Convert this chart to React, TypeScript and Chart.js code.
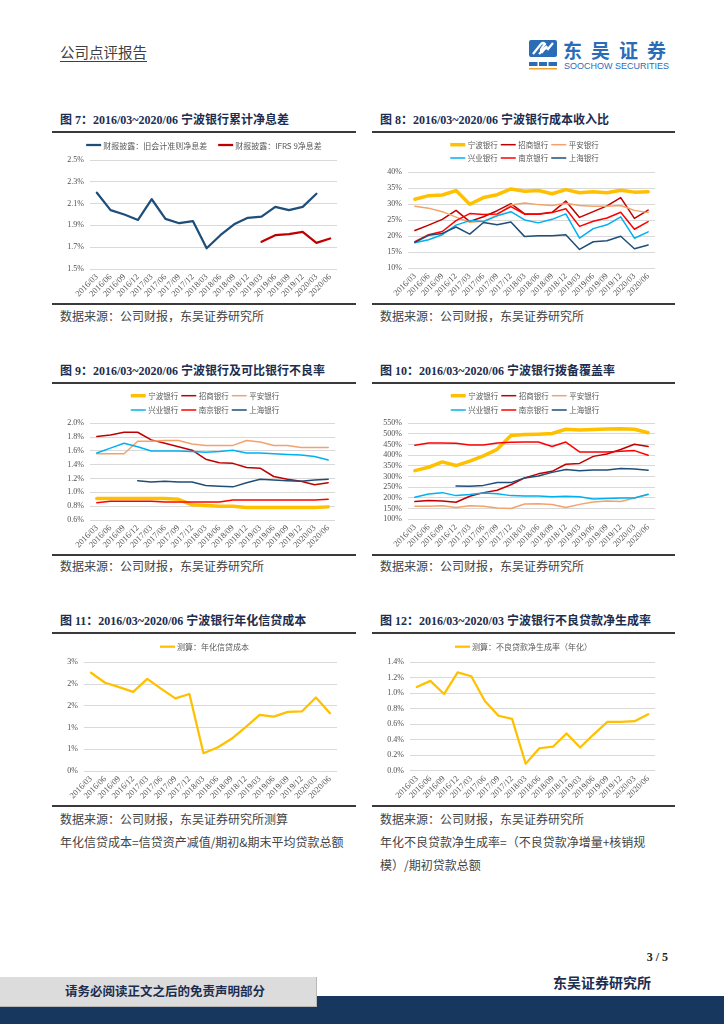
import React, { useEffect, useRef } from "react";
import { Chart, registerables } from "chart.js";

Chart.register(...registerables);

// ---------------- data ----------------
const periods = [
  "2016/03", "2016/06", "2016/09", "2016/12",
  "2017/03", "2017/06", "2017/09", "2017/12",
  "2018/03", "2018/06", "2018/09", "2018/12",
  "2019/03", "2019/06", "2019/09", "2019/12",
  "2020/03", "2020/06",
];

// Fig 7 net interest margin (%)
const nimOldStd = [2.20, 2.04, 2.00, 1.95, 2.14, 1.96, 1.92, 1.94, 1.69, 1.81, 1.91, 1.97, 1.98, 2.07, 2.04, 2.07, 2.19, null];
const nimIfrs9 = [null, null, null, null, null, null, null, null, null, null, null, null, 1.75, 1.81, 1.82, 1.84, 1.74, 1.78];

// Fig 8 cost-income ratio (%)
const ciNingbo = [31.6, 32.7, 32.9, 34.3, 30.0, 32.1, 33.0, 34.8, 34.1, 34.3, 33.3, 34.6, 33.6, 33.9, 33.6, 34.4, 33.8, 33.9];
const ciCmb = [21.8, 23.5, 25.3, 28.1, 24.6, 26.1, 28.0, 30.2, 27.0, 27.0, 27.5, 31.0, 25.9, 27.7, 29.5, 32.1, 25.6, 28.2];
const ciPingan = [29.4, 28.8, 27.7, 26.0, 24.4, 24.7, 26.6, 29.8, 30.4, 29.9, 29.6, 30.3, 29.6, 29.4, 29.4, 29.6, 28.1, 27.4];
const ciCib = [18.0, 18.9, 20.5, 23.5, 24.9, 24.6, 26.4, 27.7, 25.1, 24.2, 25.3, 27.0, 19.4, 22.4, 23.6, 26.1, 19.4, 21.4];
const ciNanjing = [18.3, 20.5, 21.5, 24.9, 27.1, 26.8, 27.0, 29.3, 26.9, 26.9, 27.4, 28.6, 23.1, 24.7, 25.7, 27.5, 22.2, 24.6];
const ciShanghai = [18.1, 20.3, 20.9, 22.9, 20.7, 24.3, 23.6, 24.5, 19.9, 20.2, 20.2, 20.5, 15.9, 18.3, 18.6, 20.0, 16.1, 17.3];

// Fig 9 NPL ratio (%)
const nplNingbo = [0.91, 0.91, 0.91, 0.91, 0.91, 0.91, 0.90, 0.82, 0.81, 0.80, 0.80, 0.78, 0.78, 0.78, 0.78, 0.78, 0.78, 0.79];
const nplCmb = [1.81, 1.83, 1.87, 1.87, 1.76, 1.71, 1.66, 1.61, 1.48, 1.43, 1.42, 1.36, 1.35, 1.23, 1.19, 1.16, 1.11, 1.14];
const nplPingan = [1.56, 1.56, 1.56, 1.74, 1.74, 1.75, 1.75, 1.70, 1.68, 1.68, 1.68, 1.75, 1.73, 1.68, 1.68, 1.65, 1.65, 1.65];
const nplCib = [1.57, 1.64, 1.71, 1.66, 1.60, 1.60, 1.60, 1.59, 1.58, 1.59, 1.61, 1.57, 1.57, 1.56, 1.55, 1.54, 1.52, 1.47];
const nplNanjing = [0.85, 0.87, 0.87, 0.87, 0.87, 0.86, 0.86, 0.86, 0.86, 0.86, 0.89, 0.89, 0.89, 0.89, 0.89, 0.89, 0.89, 0.90];
const nplShanghai = [null, null, null, 1.17, 1.15, 1.16, 1.15, 1.15, 1.10, 1.09, 1.08, 1.14, 1.19, 1.18, 1.17, 1.16, 1.18, 1.19];

// Fig 10 provision coverage ratio (%)
const pcNingbo = [328, 344, 369, 352, 373, 397, 428, 493, 497, 499, 502, 522, 519, 521, 523, 524, 522, 506];
const pcCmb = [183, 188, 186, 180, 208, 225, 236, 262, 294, 313, 325, 358, 362, 395, 406, 427, 452, 441];
const pcPingan = [161, 161, 164, 155, 164, 161, 153, 151, 172, 173, 169, 155, 170, 181, 186, 183, 200, 216];
const pcCib = [203, 219, 225, 211, 216, 223, 220, 211, 209, 209, 206, 208, 206, 195, 198, 200, 200, 217];
const pcNanjing = [447, 458, 458, 456, 448, 448, 458, 461, 462, 462, 441, 462, 416, 416, 416, 419, 422, 400];
const pcShanghai = [null, null, null, 256, 255, 259, 273, 272, 294, 303, 320, 333, 328, 331, 331, 338, 336, 330];

// Fig 11 annualised credit cost (%)
const creditCost = [2.26, 2.03, 1.93, 1.82, 2.12, 1.89, 1.67, 1.77, 0.41, 0.54, 0.74, 1.01, 1.29, 1.25, 1.36, 1.37, 1.69, 1.33];

// Fig 12 annualised NPL net formation rate (%)
const nplFormation = [1.08, 1.16, 0.99, 1.27, 1.22, 0.90, 0.71, 0.67, 0.09, 0.29, 0.31, 0.48, 0.30, 0.47, 0.63, 0.63, 0.64, 0.73];

// labels
const bankNames = ["宁波银行", "招商银行", "平安银行", "兴业银行", "南京银行", "上海银行"];
const fig7Labels = ["财报披露：旧会计准则净息差", "财报披露：IFRS 9净息差"];
const fig11Label = "测算：年化信贷成本";
const fig12Label = "测算：不良贷款净生成率（年化）";

// ---------------- styles ----------------
const SERIF = "'Liberation Serif','Times New Roman','Noto Sans CJK SC',serif";
const SANS = "'Noto Sans CJK SC','Liberation Sans',sans-serif";
const TICK = "#505050";
const GRID = "#d9d9d9";
const C_NB = "#FFC000";
const C_CMB = "#C00000";
const C_PA = "#F4A26B";
const C_CIB = "#00B0F0";
const C_NJ = "#FF0000";
const C_SH = "#1F4E79";
const NAVY = "#1c2d4f";

type Series = { label: string; data: (number | null)[]; color: string; width: number };
type Spec = {
  box: [number, number, number, number]; // left, top, width, height
  plot: [number, number, number, number]; // left, top, right, bottom
  series: Series[];
  yMin: number;
  yMax: number;
  yStep: number;
  fmt: (v: number) => string;
  legendRows: number[][];
  legendY: number[];
  legendCx: number;
  legendFont: number;
  legendGap: number;
  legendItemGap: number;
};

function bankSeries(arrs: (number | null)[][]): Series[] {
  const colors = [C_NB, C_CMB, C_PA, C_CIB, C_NJ, C_SH];
  return arrs.map((d, i) => ({ label: bankNames[i], data: d, color: colors[i], width: i === 0 ? 3.5 : 1.5 }));
}

function LineChart({ spec }: { spec: Spec }) {
  const ref = useRef<HTMLCanvasElement>(null);
  const [bl, bt, bw, bh] = spec.box;
  useEffect(() => {
    const [pl, pt, pr, pb] = spec.plot;
    const legendPlugin = {
      id: "fixedLegend",
      afterDraw(chart: any) {
        const ctx = chart.ctx as CanvasRenderingContext2D;
        ctx.save();
        ctx.font = `${spec.legendFont}px ${SANS}`;
        ctx.textBaseline = "middle";
        ctx.textAlign = "left";
        const lineLen = 15;
        spec.legendRows.forEach((row, r) => {
          const y = spec.legendY[r];
          const dsets = row.map((i) => chart.data.datasets[i]);
          const widths = dsets.map((ds: any) => lineLen + spec.legendGap + ctx.measureText(ds.label).width);
          const total = widths.reduce((a: number, b: number) => a + b, 0) + spec.legendItemGap * (dsets.length - 1);
          let x = spec.legendCx - total / 2;
          dsets.forEach((ds: any, k: number) => {
            ctx.strokeStyle = ds.borderColor;
            ctx.lineWidth = ds.borderWidth;
            ctx.lineCap = "butt";
            ctx.beginPath();
            ctx.moveTo(x, y);
            ctx.lineTo(x + lineLen, y);
            ctx.stroke();
            ctx.fillStyle = "#595959";
            ctx.fillText(ds.label, x + lineLen + spec.legendGap, y + 0.5);
            x += widths[k] + spec.legendItemGap;
          });
        });
        ctx.restore();
      },
    };
    const n = spec.series.length;
    const chart = new Chart(ref.current as HTMLCanvasElement, {
      type: "line",
      data: {
        labels: periods,
        datasets: spec.series.map((s, i) => ({
          label: s.label,
          data: s.data,
          borderColor: s.color,
          backgroundColor: s.color,
          borderWidth: s.width,
          pointRadius: 0,
          pointHoverRadius: 0,
          tension: 0,
          fill: false,
          borderJoinStyle: "round",
          borderCapStyle: "round",
          order: n - i,
        })) as any,
      },
      options: {
        responsive: false,
        animation: false,
        events: [],
        layout: { padding: { left: 0, top: pt - bt, right: bl + bw - pr, bottom: 0 } },
        plugins: { legend: { display: false }, tooltip: { enabled: false } },
        scales: {
          x: {
            offset: true,
            grid: { display: false, drawTicks: false },
            border: { display: false },
            ticks: {
              autoSkip: false,
              maxRotation: 45,
              minRotation: 45,
              color: TICK,
              padding: 3,
              font: { family: SERIF, size: 8.5 },
            },
            afterFit: (s: any) => {
              s.height = bt + bh - pb;
            },
          },
          y: {
            min: spec.yMin,
            max: spec.yMax,
            grid: { color: GRID, lineWidth: 1, drawTicks: false },
            border: { display: false },
            ticks: {
              stepSize: spec.yStep,
              autoSkip: false,
              color: TICK,
              padding: 6,
              font: { family: SERIF, size: 8 },
              callback: (v: any) => spec.fmt(Number(v)),
            },
            afterFit: (s: any) => {
              s.width = pl - bl;
            },
          },
        },
      } as any,
      plugins: [legendPlugin],
    });
    return () => chart.destroy();
  }, []);
  return (
    <canvas
      ref={ref}
      width={bw}
      height={bh}
      style={{ position: "absolute", left: bl, top: bt, width: bw, height: bh }}
    />
  );
}

const fmt1 = (v: number) => v.toFixed(1) + "%";
const fmt0 = (v: number) => Math.round(v) + "%";

const spec7: Spec = {
  box: [52, 134, 304, 168],
  plot: [90, 160, 337, 269],
  series: [
    { label: fig7Labels[0], data: nimOldStd, color: "#1F4E79", width: 2.25 },
    { label: fig7Labels[1], data: nimIfrs9, color: "#C00000", width: 2.25 },
  ],
  yMin: 1.5, yMax: 2.5, yStep: 0.2, fmt: fmt1,
  legendRows: [[0, 1]], legendY: [11], legendCx: 152, legendFont: 8, legendGap: 2, legendItemGap: 11,
};

const spec8: Spec = {
  box: [372, 134, 304, 168],
  plot: [408, 172.3, 655, 268.3],
  series: bankSeries([ciNingbo, ciCmb, ciPingan, ciCib, ciNanjing, ciShanghai]),
  yMin: 10, yMax: 40, yStep: 5, fmt: fmt0,
  legendRows: [[0, 1, 2], [3, 4, 5]], legendY: [10.7, 24], legendCx: 152.5, legendFont: 7.5, legendGap: 2.5, legendItemGap: 3,
};

const spec9: Spec = {
  box: [52, 385, 304, 168],
  plot: [90, 423.3, 335, 520],
  series: bankSeries([nplNingbo, nplCmb, nplPingan, nplCib, nplNanjing, nplShanghai]),
  yMin: 0.6, yMax: 2.0, yStep: 0.2, fmt: fmt1,
  legendRows: [[0, 1, 2], [3, 4, 5]], legendY: [10.7, 25], legendCx: 153, legendFont: 7.5, legendGap: 2.5, legendItemGap: 3,
};

const spec10: Spec = {
  box: [372, 385, 304, 168],
  plot: [408, 423.3, 655, 519.3],
  series: bankSeries([pcNingbo, pcCmb, pcPingan, pcCib, pcNanjing, pcShanghai]),
  yMin: 100, yMax: 550, yStep: 50, fmt: fmt0,
  legendRows: [[0, 1, 2], [3, 4, 5]], legendY: [10.7, 25], legendCx: 153, legendFont: 7.5, legendGap: 2.5, legendItemGap: 3,
};

const spec11: Spec = {
  box: [52, 635, 304, 169],
  plot: [84, 662.3, 337, 771],
  series: [{ label: fig11Label, data: creditCost, color: C_NB, width: 2.25 }],
  yMin: 0, yMax: 2.5, yStep: 0.5, fmt: fmt0,
  legendRows: [[0]], legendY: [11.7], legendCx: 152.5, legendFont: 8, legendGap: 2, legendItemGap: 0,
};

const spec12: Spec = {
  box: [372, 635, 304, 169],
  plot: [410, 662.3, 655, 770.7],
  series: [{ label: fig12Label, data: nplFormation, color: C_NB, width: 2.25 }],
  yMin: 0, yMax: 1.4, yStep: 0.2, fmt: fmt1,
  legendRows: [[0]], legendY: [11.7], legendCx: 151.5, legendFont: 8, legendGap: 2, legendItemGap: 0,
};

// ---------------- page helpers ----------------
function Txt(props: {
  x?: number;
  right?: number;
  cy: number;
  size: number;
  children: React.ReactNode;
  style?: React.CSSProperties;
}) {
  const lh = Math.round(props.size * 1.5);
  const s: React.CSSProperties = {
    position: "absolute",
    top: props.cy - lh / 2,
    height: lh,
    lineHeight: lh + "px",
    fontSize: props.size,
    whiteSpace: "pre",
    ...props.style,
  };
  if (props.x !== undefined) s.left = props.x;
  if (props.right !== undefined) s.right = props.right;
  return <div style={s}>{props.children}</div>;
}

function Rule({ x, y, w }: { x: number; y: number; w: number }) {
  return <div style={{ position: "absolute", left: x, top: y, width: w, height: 2, background: "#3a3a3a" }} />;
}

const titleStyle: React.CSSProperties = { fontFamily: SERIF, fontWeight: 700, color: NAVY };
const srcStyle: React.CSSProperties = { fontFamily: SANS, color: "#444444" };

function Logo() {
  const blue = "#2b6cb7";
  return (
    <>
      <svg style={{ position: "absolute", left: 529, top: 40 }} width={28} height={30} viewBox="0 0 28 30">
        <rect x={0} y={0} width={28} height={17} rx={2} fill={blue} />
        <path d="M4 14 L12 4 Q14 2 16 4 L13 8 Q11 10 13 12 L18 6" stroke="#fff" strokeWidth={2.2} fill="none" />
        <path d="M10 14 L15 9 Q17 7 19 9 L24 3" stroke="#fff" strokeWidth={2.2} fill="none" />
        <rect x={0} y={22} width={28} height={4} fill={blue} />
        <rect x={8.5} y={22} width={1.5} height={4} fill="#fff" />
        <rect x={18} y={22} width={1.5} height={4} fill="#fff" />
        <rect x={0} y={28} width={28} height={1.5} fill="#f0a030" />
      </svg>
      <Txt x={563} cy={49} size={19} style={{ fontFamily: SANS, fontWeight: 700, color: blue, letterSpacing: 9 }}>
        东吴证券
      </Txt>
      <Txt x={564} cy={65.5} size={9} style={{ fontFamily: "'Liberation Sans',Arial,sans-serif", color: blue }}>
        SOOCHOW SECURITIES
      </Txt>
    </>
  );
}

export default function App() {
  return (
    <div
      style={{
        position: "absolute",
        left: 0,
        top: 0,
        width: 724,
        height: 1024,
        background: "#ffffff",
        overflow: "hidden",
      }}
    >
      {/* header */}
      <Txt x={60} cy={52} size={14.5} style={{ fontFamily: SANS, color: "#404040", textDecoration: "underline", textUnderlineOffset: 3 }}>
        公司点评报告
      </Txt>
      <Logo />

      {/* row 1 */}
      <Txt x={60} cy={120} size={12} style={titleStyle}>图 7：2016/03~2020/06 宁波银行累计净息差</Txt>
      <Txt x={380} cy={120} size={12} style={titleStyle}>图 8：2016/03~2020/06 宁波银行成本收入比</Txt>
      <Rule x={52} y={131} w={304} />
      <Rule x={372} y={131} w={303} />
      <LineChart spec={spec7} />
      <LineChart spec={spec8} />
      <Rule x={52} y={303} w={304} />
      <Rule x={372} y={303} w={303} />
      <Txt x={60} cy={316} size={12} style={srcStyle}>数据来源：公司财报，东吴证券研究所</Txt>
      <Txt x={380} cy={316} size={12} style={srcStyle}>数据来源：公司财报，东吴证券研究所</Txt>

      {/* row 2 */}
      <Txt x={60} cy={371} size={12} style={titleStyle}>图 9：2016/03~2020/06 宁波银行及可比银行不良率</Txt>
      <Txt x={380} cy={371} size={12} style={titleStyle}>图 10：2016/03~2020/06 宁波银行拨备覆盖率</Txt>
      <Rule x={52} y={382} w={304} />
      <Rule x={372} y={382} w={303} />
      <LineChart spec={spec9} />
      <LineChart spec={spec10} />
      <Rule x={52} y={554} w={304} />
      <Rule x={372} y={554} w={303} />
      <Txt x={60} cy={566} size={12} style={srcStyle}>数据来源：公司财报，东吴证券研究所</Txt>
      <Txt x={380} cy={566} size={12} style={srcStyle}>数据来源：公司财报，东吴证券研究所</Txt>

      {/* row 3 */}
      <Txt x={60} cy={621} size={12} style={titleStyle}>图 11：2016/03~2020/06 宁波银行年化信贷成本</Txt>
      <Txt x={380} cy={621} size={12} style={titleStyle}>图 12：2016/03~2020/03 宁波银行不良贷款净生成率</Txt>
      <Rule x={52} y={632} w={304} />
      <Rule x={372} y={632} w={303} />
      <LineChart spec={spec11} />
      <LineChart spec={spec12} />
      <Rule x={52} y={805} w={304} />
      <Rule x={372} y={805} w={303} />
      <Txt x={60} cy={819} size={12} style={srcStyle}>数据来源：公司财报，东吴证券研究所测算</Txt>
      <Txt x={60} cy={842} size={12} style={srcStyle}>年化信贷成本=信贷资产减值/期初&amp;期末平均贷款总额</Txt>
      <Txt x={380} cy={819} size={12} style={srcStyle}>数据来源：公司财报，东吴证券研究所</Txt>
      <Txt x={380} cy={842} size={12} style={srcStyle}>年化不良贷款净生成率=（不良贷款净增量+核销规</Txt>
      <Txt x={380} cy={865} size={12} style={srcStyle}>模）/期初贷款总额</Txt>

      {/* footer */}
      <Txt right={56} cy={957} size={12} style={{ fontFamily: SERIF, fontWeight: 700, color: "#222" }}>3 / 5</Txt>
      <Txt x={553} cy={983} size={14} style={{ fontFamily: SERIF, fontWeight: 700, color: NAVY }}>东吴证券研究所</Txt>
      <div style={{ position: "absolute", left: 0, top: 996, width: 724, height: 28, background: "#17375e" }} />
      <div
        style={{
          position: "absolute",
          left: 0,
          top: 977,
          width: 316,
          height: 29,
          background: "#dcdcdc",
          borderRight: "1px solid #b8b8b8",
          borderBottom: "1px solid #b8b8b8",
        }}
      />
      <Txt x={65} cy={992} size={12.5} style={{ fontFamily: SERIF, fontWeight: 700, color: NAVY }}>
        请务必阅读正文之后的免责声明部分
      </Txt>
    </div>
  );
}
